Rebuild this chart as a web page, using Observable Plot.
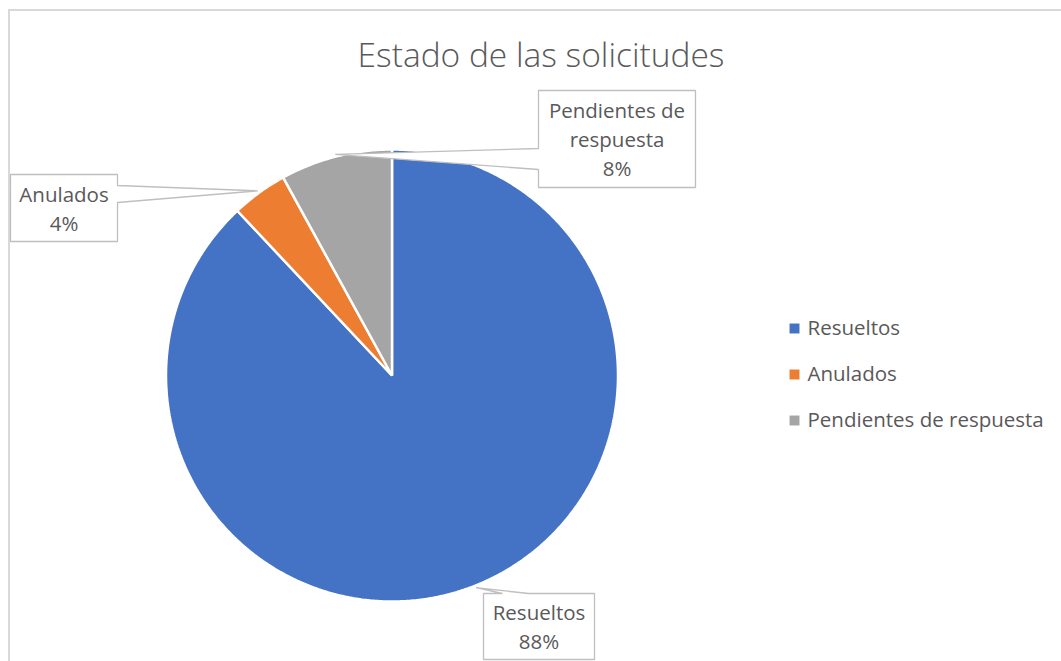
<!DOCTYPE html>
<html>
<head>
<meta charset="utf-8">
<script src="https://cdn.jsdelivr.net/npm/d3@7"></script>
<script src="https://cdn.jsdelivr.net/npm/@observablehq/plot@0.6"></script>
<style>
  html, body { margin: 0; padding: 0; background: #ffffff; overflow: hidden; }
  #wrap { position: relative; width: 1061px; height: 661px; overflow: hidden; }
  #border { position: absolute; left: 8px; top: 9px; width: 1200px; height: 800px;
            border-left: 2px solid #d9d9d9; border-top: 2px solid #d9d9d9; }
  #chart { position: absolute; left: 0; top: 0; }
</style>
</head>
<body>
<div id="wrap"><div id="border"></div><div id="chart"></div></div>
<script>
// ---- data ----
const title = "Estado de las solicitudes";
const categories = ["Resueltos", "Anulados", "Pendientes de respuesta"];
const values = [88, 4, 8];
const colors = ["#4472C4", "#ED7D31", "#A5A5A5"];

// ---- layout (pixels) ----
const W = 1061, H = 661;
const cx = 391.5, cy = 375, R = 226;
const font = "'Open Sans', 'DejaVu Sans', sans-serif";
const textColor = "#595959";
const X = px => (px - cx) / R;
const Y = py => (cy - py) / R;

// callout boxes: [x0, y0, x1, y1], pointer side and pointer base
const callouts = [
  {box: [483, 593, 594, 659], side: "top", base: [502, 528]},
  {box: [10, 174, 117, 241], side: "right", base: [185, 202]},
  {box: [538, 90, 695, 187], side: "left", base: [148, 169]}
];
const legendX = 794, legendTextX = 807, legendY0 = 328, legendStep = 46;

// ---- pie geometry from values ----
const arcs = d3.pie().sort(null).value(d => d)(values);
const slicePts = [];
arcs.forEach((a, i) => {
  const key = categories[i];
  slicePts.push({key, x: 0, y: 0});
  const n = Math.max(2, Math.ceil((a.endAngle - a.startAngle) / (Math.PI / 360)));
  for (let k = 0; k <= n; k++) {
    const t = a.startAngle + (a.endAngle - a.startAngle) * k / n;
    slicePts.push({key, x: Math.sin(t), y: Math.cos(t)});
  }
});

// callout polygons, tip on the rim at the slice's mid angle
const calloutPts = [];
const labelData = [];
arcs.forEach((a, i) => {
  const key = categories[i];
  const c = callouts[i];
  const mid = (a.startAngle + a.endAngle) / 2;
  const tip = {x: 1.01 * Math.sin(mid), y: 1.01 * Math.cos(mid)};
  const [x0, y0, x1, y1] = c.box;
  const [b0, b1] = c.base;
  let pts;
  if (c.side === "right") {
    pts = [[x0, y0], [x1, y0], [x1, b0], null, [x1, b1], [x1, y1], [x0, y1]];
  } else if (c.side === "left") {
    pts = [[x0, y0], [x1, y0], [x1, y1], [x0, y1], [x0, b1], null, [x0, b0]];
  } else {
    pts = [[x0, y0], [b0, y0], null, [b1, y0], [x1, y0], [x1, y1], [x0, y1]];
  }
  pts.forEach(p => calloutPts.push(p ? {key, x: X(p[0]), y: Y(p[1])} : {key, ...tip}));
  labelData.push({key, text: `${key}\n${values[i]}%`, x: X((x0 + x1) / 2), y: Y((y0 + y1) / 2)});
});

const legendData = categories.map((key, i) => ({
  key, x: X(legendX), tx: X(legendTextX), y: Y(legendY0 + i * legendStep)
}));

const chart = Plot.plot({
  width: W, height: H,
  margin: 0,
  style: {fontFamily: font, background: "transparent", overflow: "visible"},
  x: {domain: [-1, 1], range: [cx - R, cx + R], axis: null},
  y: {domain: [-1, 1], range: [cy + R, cy - R], axis: null},
  color: {domain: categories, range: colors},
  marks: [
    Plot.line(slicePts, {x: "x", y: "y", z: "key", fill: "key", stroke: "white",
      strokeWidth: 2.5, curve: "linear-closed", strokeLinejoin: "miter"}),
    Plot.line(calloutPts, {x: "x", y: "y", z: "key", fill: "white", stroke: "#bfbfbf",
      strokeWidth: 1.3, curve: "linear-closed", strokeLinejoin: "miter"}),
    Plot.text(labelData, {x: "x", y: "y", text: "text", fill: textColor, fontSize: 20.5,
      lineHeight: 1.4, lineWidth: 8, dy: -1}),
    Plot.dot(legendData, {x: "x", y: "y", symbol: "square", r: 5.6, fill: "key", stroke: null}),
    Plot.text(legendData, {x: "tx", y: "y", text: "key", fill: textColor, fontSize: 20.5,
      textAnchor: "start"}),
    Plot.text([title], {x: X(540.5), y: Y(56), text: d => d, fill: textColor,
      fontSize: 33.5, fontWeight: 300})
  ]
});
document.getElementById("chart").appendChild(chart);
</script>
</body>
</html>
